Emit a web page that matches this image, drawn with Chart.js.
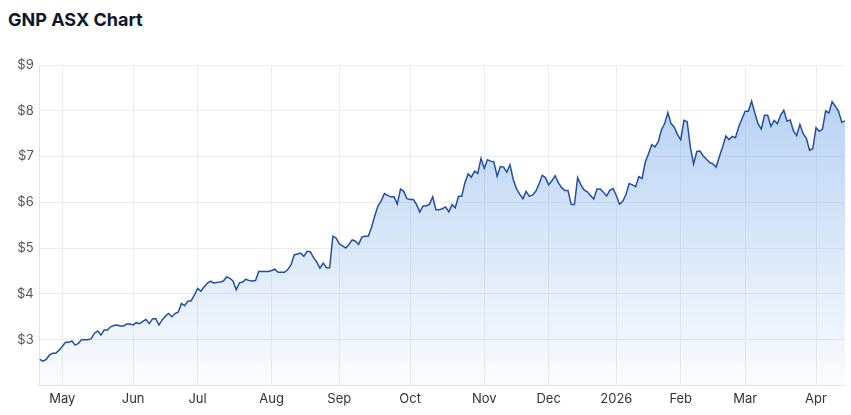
<!DOCTYPE html>
<html>
<head>
<meta charset="utf-8">
<script src="https://cdn.jsdelivr.net/npm/chart.js@4/dist/chart.umd.min.js"></script>
<style>
  body { margin: 0; background: #fff; font-family: Inter, "Noto Sans", sans-serif; }
  #wrap { position: relative; width: 851px; height: 415px; }
  h2 { position: absolute; left: 8px; top: 9px; margin: 0; font-size: 18px; font-weight: 700; color: #0f172a; }
  #box { position: absolute; left: 0; top: 0; width: 851px; height: 415px; }
</style>
</head>
<body>
<div id="wrap">
  <h2>GNP ASX Chart</h2>
  <div id="box"><canvas id="plot"></canvas></div>
</div>
<script>
// daily closes, one array per month (trading days only)
const apr25 = [2.57, 2.53, 2.57, 2.66, 2.70, 2.70, 2.77];
const may = [2.85, 2.94, 2.94, 2.97, 2.88, 2.92, 3.00, 3.00, 3.00, 3.02, 3.14, 3.19, 3.10, 3.21, 3.21, 3.28, 3.31, 3.32, 3.30, 3.30, 3.34, 3.34];
const jun = [3.32, 3.37, 3.35, 3.40, 3.44, 3.35, 3.45, 3.46, 3.32, 3.43, 3.51, 3.57, 3.50, 3.57, 3.60, 3.79, 3.74, 3.84, 3.85, 3.97];
const jul = [4.12, 4.06, 4.15, 4.23, 4.28, 4.24, 4.25, 4.26, 4.28, 4.37, 4.34, 4.28, 4.09, 4.24, 4.26, 4.32, 4.29, 4.28, 4.29, 4.49, 4.49, 4.49, 4.49];
const aug = [4.51, 4.54, 4.47, 4.47, 4.47, 4.53, 4.63, 4.85, 4.87, 4.89, 4.82, 4.93, 4.92, 4.79, 4.70, 4.56, 4.67, 4.57, 4.57, 5.26, 5.22];
const sep = [5.09, 5.05, 5.00, 5.08, 5.18, 5.15, 5.08, 5.24, 5.26, 5.26, 5.45, 5.70, 5.92, 6.03, 6.19, 6.15, 6.12, 6.12, 5.96, 6.29, 6.24, 6.08];
const oct = [6.06, 6.06, 5.95, 5.79, 5.92, 5.92, 5.96, 6.12, 5.84, 5.84, 5.86, 5.90, 5.79, 5.95, 5.88, 6.13, 6.13, 6.43, 6.62, 6.55, 6.68, 6.63, 6.96];
const nov = [6.74, 6.93, 6.90, 6.88, 6.57, 6.78, 6.77, 6.66, 6.82, 6.50, 6.30, 6.18, 6.08, 6.24, 6.13, 6.16, 6.24, 6.40, 6.59, 6.54];
const dec = [6.38, 6.47, 6.58, 6.43, 6.32, 6.26, 6.26, 5.95, 5.95, 6.54, 6.38, 6.27, 6.23, 6.15, 6.07, 6.29, 6.29, 6.22, 6.14, 6.26, 6.30];
const jan = [6.15, 5.96, 6.02, 6.17, 6.41, 6.38, 6.34, 6.56, 6.52, 6.88, 7.06, 7.26, 7.21, 7.32, 7.58, 7.72, 7.96, 7.72, 7.64, 7.48];
const feb = [7.37, 7.79, 7.76, 7.20, 6.84, 7.11, 7.12, 7.01, 6.94, 6.87, 6.84, 6.77, 7.00, 7.21, 7.45, 7.37, 7.44, 7.41, 7.65, 7.82];
const mar = [7.99, 7.99, 8.21, 7.95, 7.72, 7.60, 7.90, 7.90, 7.66, 7.79, 7.72, 7.90, 8.01, 7.77, 7.80, 7.56, 7.46, 7.70, 7.50, 7.40, 7.14, 7.17];
const apr26 = [7.63, 7.55, 7.60, 8.00, 7.95, 8.20, 8.10, 7.99, 7.75, 7.78];

const monthNames = ["", "May", "Jun", "Jul", "Aug", "Sep", "Oct", "Nov", "Dec", "2026", "Feb", "Mar", "Apr"];
const months = [apr25, may, jun, jul, aug, sep, oct, nov, dec, jan, feb, mar, apr26];
const yTicks = [2, 3, 4, 5, 6, 7, 8, 9];

// label only the first trading day of each month
const labels = [];
const prices = [];
months.forEach((m, k) => {
  m.forEach((p, j) => {
    labels.push(j === 0 ? monthNames[k] : "");
    prices.push(p);
  });
});

const ctx = document.getElementById("plot").getContext("2d");
new Chart(ctx, {
  type: "line",
  data: {
    labels: labels,
    datasets: [{
      data: prices,
      borderColor: "#2150a5",
      borderWidth: 1.5,
      pointRadius: 0,
      tension: 0,
      fill: "start",
      backgroundColor: (c) => {
        const area = c.chart.chartArea;
        if (!area) return "rgba(160,194,240,0.6)";
        const g = c.chart.ctx.createLinearGradient(0, area.top, 0, area.bottom);
        g.addColorStop(0, "rgba(150,188,238,0.75)");
        g.addColorStop(1, "rgba(150,188,238,0.04)");
        return g;
      },
    }],
  },
  options: {
    responsive: true,
    maintainAspectRatio: false,
    animation: false,
    layout: { padding: { top: 65, left: 11, right: 6, bottom: 2 } },
    plugins: { legend: { display: false }, tooltip: { enabled: false } },
    scales: {
      x: {
        grid: { color: "#ececec", drawTicks: false },
        border: { color: "#e3e3e3" },
        ticks: {
          autoSkip: false,
          maxRotation: 0,
          padding: 6,
          color: "#333",
          font: { family: "Inter", size: 13 },
          callback: function (v) {
            const l = this.getLabelForValue(v);
            return l ? l : null;
          },
        },
      },
      y: {
        min: yTicks[0],
        max: yTicks[yTicks.length - 1],
        afterBuildTicks: (axis) => { axis.ticks = yTicks.map((v) => ({ value: v })); },
        grid: { color: "#ececec", drawTicks: false },
        border: { color: "#e3e3e3" },
        ticks: {
          padding: 6,
          color: "#555",
          font: { family: "Inter", size: 13 },
          callback: (v) => (v === yTicks[0] ? "" : "$" + v),
        },
      },
    },
  },
});
</script>
</body>
</html>
